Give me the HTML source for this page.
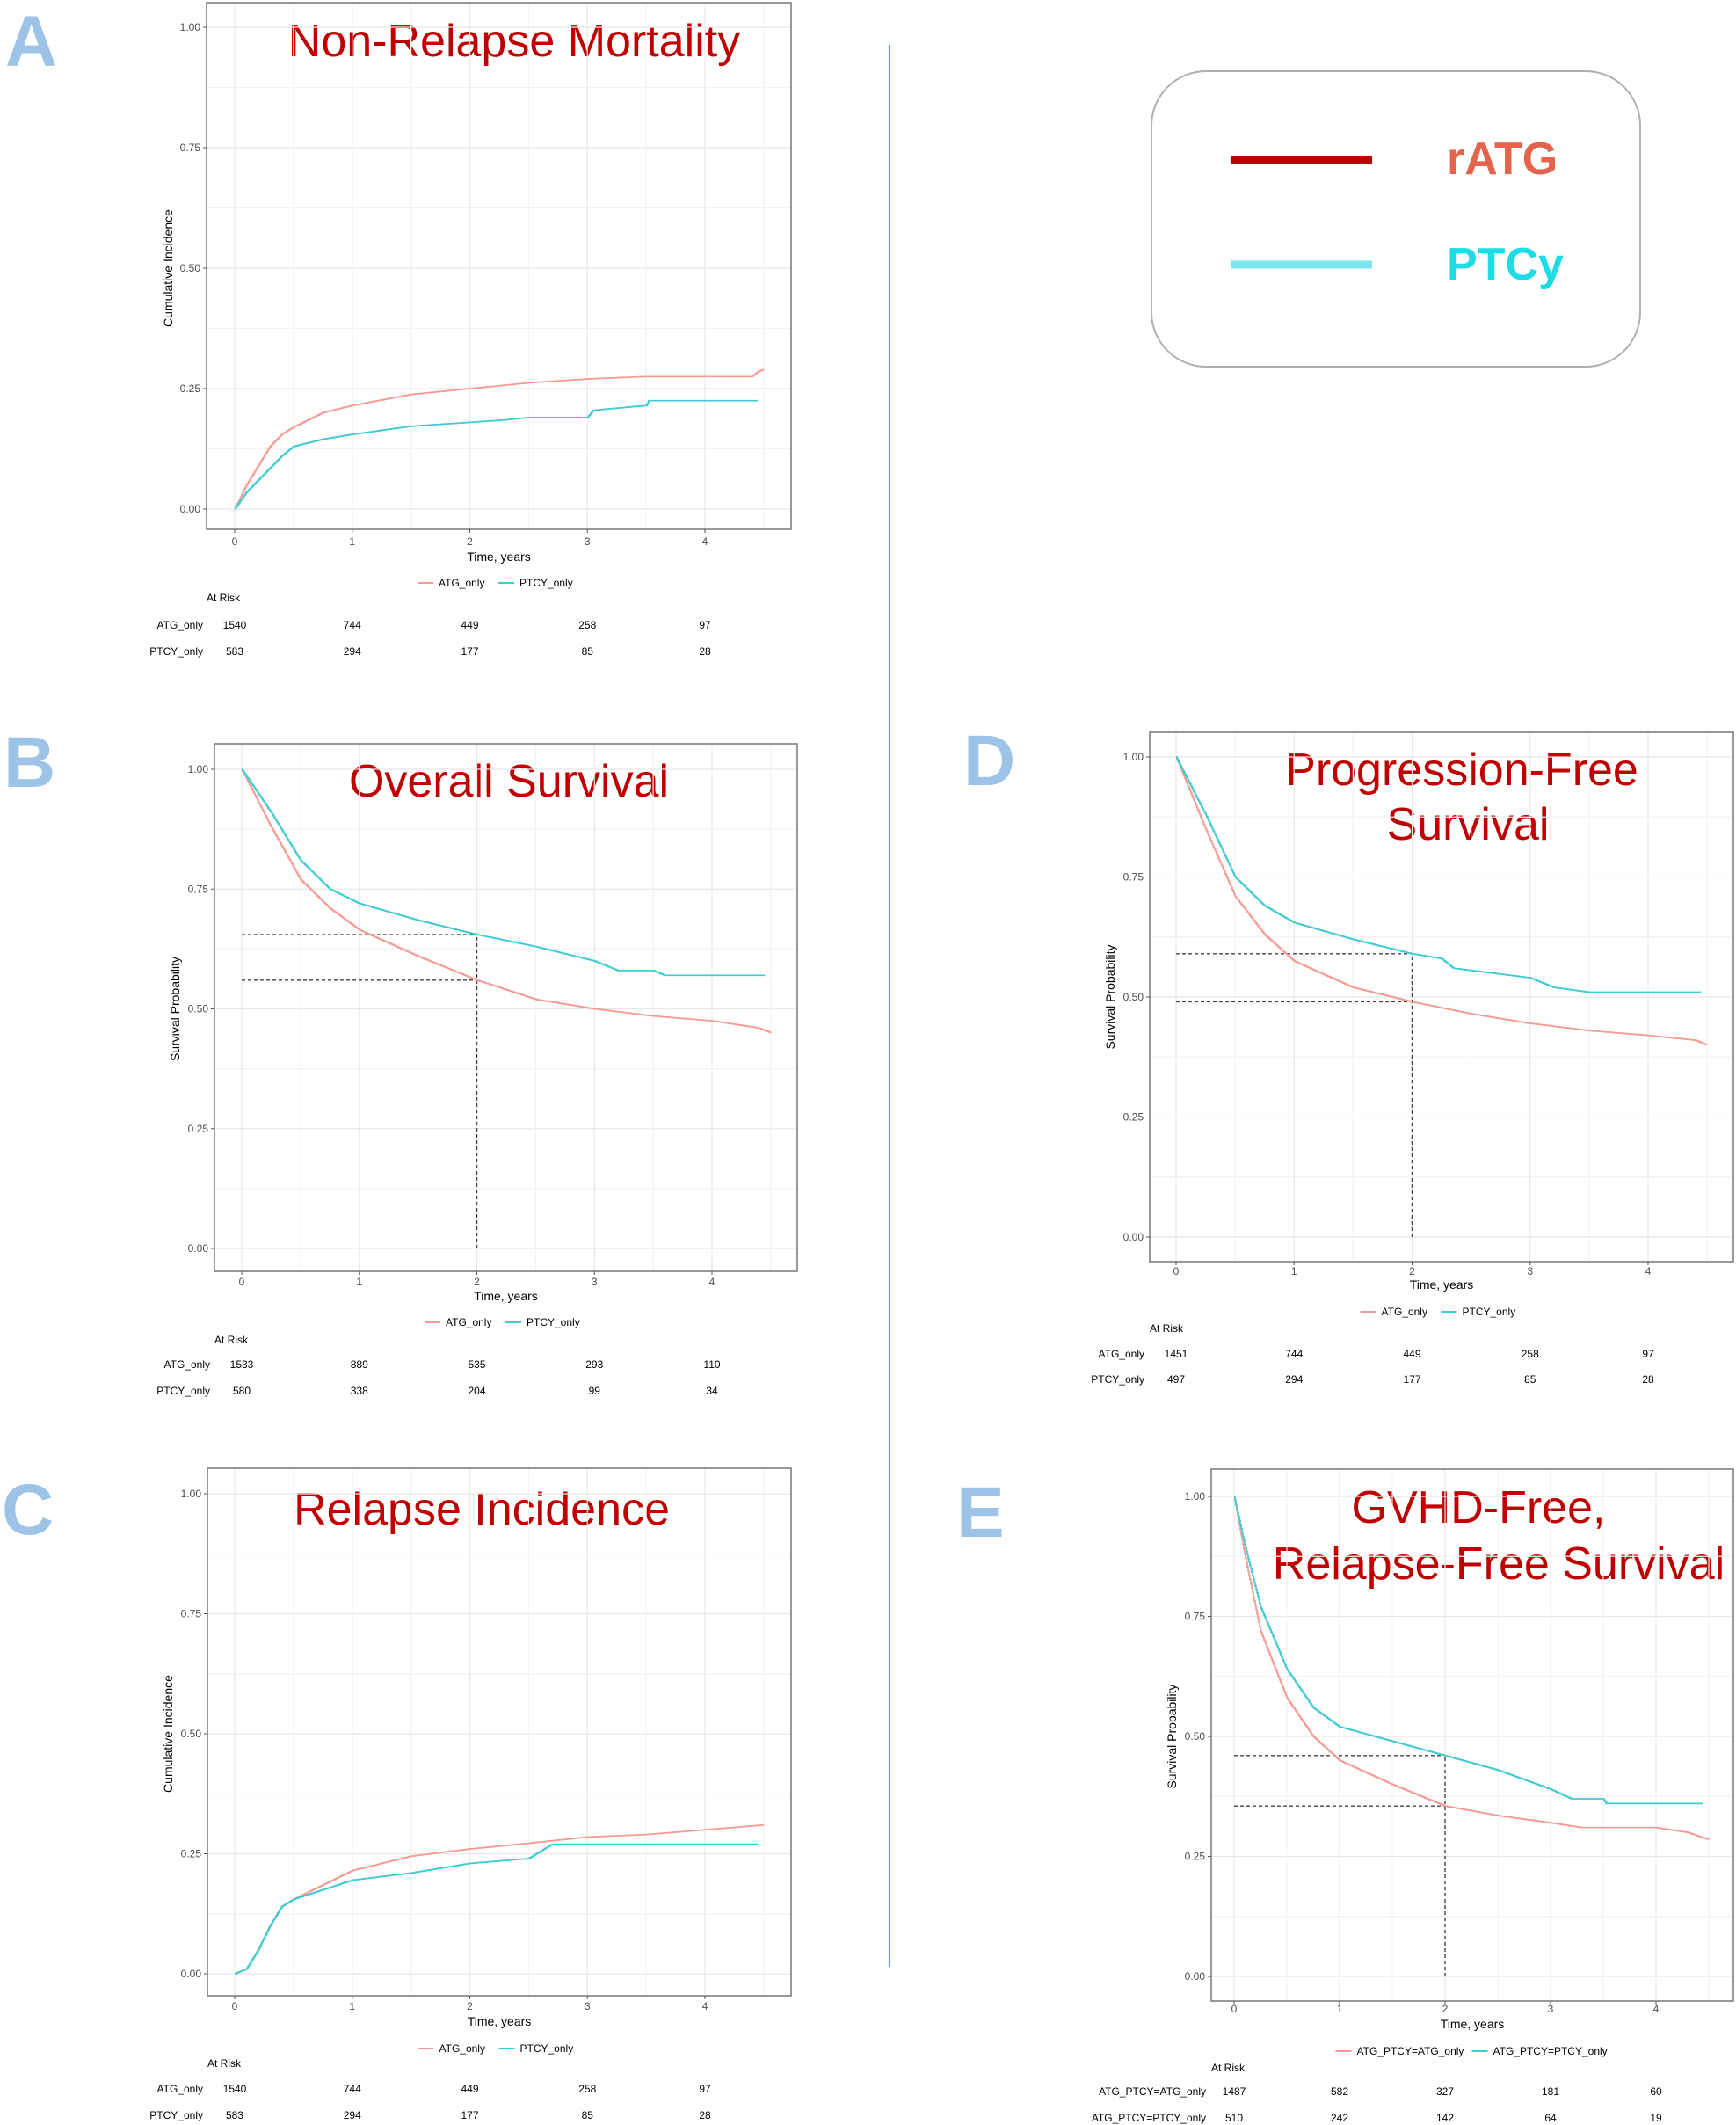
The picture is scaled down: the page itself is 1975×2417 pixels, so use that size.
<!DOCTYPE html>
<html><head><meta charset="utf-8">
<style>
html,body{margin:0;padding:0;background:#fff;}
svg{display:block;}
text{font-family:"Liberation Sans",Arial,sans-serif;}
</style></head>
<body>
<svg id="s" width="1975" height="2417" viewBox="0 0 1975 2417" xmlns="http://www.w3.org/2000/svg">
<rect width="1975" height="2417" fill="#fff"/>
<line x1="1012" y1="51" x2="1012" y2="2237" stroke="#5B9BD5" stroke-width="2"/>
<rect x="1310" y="81" width="556" height="336" rx="62" fill="#fff" stroke="#b0b0b0" stroke-width="2"/>
<line x1="1401" y1="182" x2="1561" y2="182" stroke="#C00000" stroke-width="9"/>
<line x1="1401" y1="301" x2="1561" y2="301" stroke="#7AE6F2" stroke-width="9"/>
<text x="1646" y="198" font-size="52" font-weight="bold" fill="#E4644B">rATG</text>
<text x="1646" y="318" font-size="52" font-weight="bold" fill="#1EDCE4">PTCy</text>
<g font-size="82" font-weight="bold" fill="#9DC3E6">
<text x="6" y="75">A</text><text x="4" y="895">B</text><text x="2" y="1745">C</text>
<text x="1096" y="893">D</text><text x="1088" y="1748">E</text>
</g>
<g font-size="52" fill="#C00000" text-anchor="middle">
<text x="585" y="64">Non-Relapse Mortality</text>
<text x="579" y="906">Overall Survival</text>
<text x="548" y="1734">Relapse Incidence</text>
<text x="1663" y="893">Progression-Free</text>
<text x="1670" y="955">Survival</text>
<text x="1682" y="1732">GVHD-Free,</text>
<text x="1705" y="1796">Relapse-Free Survival</text>
</g>
<g id="g"></g>
</svg>
<script>
var NS="http://www.w3.org/2000/svg",G=document.getElementById("g");
function el(t,a,txt){var e=document.createElementNS(NS,t);for(var k in a)e.setAttribute(k,a[k]);if(txt!=null)e.textContent=txt;G.appendChild(e);return e;}
function panel(c){
 var X=function(t){return c.x0+t*(c.x4-c.x0)/4},Y=function(v){return c.y0-(c.y0-c.y1)*v};
 for(var v=0;v<=1.0001;v+=0.125){el("line",{x1:c.fl,x2:c.fr,y1:Y(v),y2:Y(v),stroke:(Math.abs(v*4-Math.round(v*4))<1e-6)?"#e8e8e8":"#f3f3f3","stroke-width":1.2});}
 for(var t=0;t<=4.5;t+=0.5){el("line",{x1:X(t),x2:X(t),y1:c.ft,y2:c.fb,stroke:(t%1==0)?"#e8e8e8":"#f3f3f3","stroke-width":1.2});}
 el("rect",{x:c.fl,y:c.ft,width:c.fr-c.fl,height:c.fb-c.ft,fill:"none",stroke:"#777","stroke-width":1.5});
 ["0.00","0.25","0.50","0.75","1.00"].forEach(function(s,i){
  el("text",{x:c.fl-7,y:Y(i*0.25)+4,"font-size":12,fill:"#4d4d4d","text-anchor":"end"},s);
  el("line",{x1:c.fl-4,x2:c.fl,y1:Y(i*0.25),y2:Y(i*0.25),stroke:"#555"});});
 for(var i=0;i<=4;i++){el("text",{x:X(i),y:c.tk+4,"font-size":12,fill:"#4d4d4d","text-anchor":"middle"},""+i);
  el("line",{x1:X(i),x2:X(i),y1:c.fb,y2:c.fb+4,stroke:"#555"});}
 el("text",{x:(c.fl+c.fr)/2,y:c.tm+5,"font-size":14,"text-anchor":"middle"},"Time, years");
 var ym=(c.y0+c.y1)/2;
 el("text",{x:c.yl,y:ym,"font-size":14,"text-anchor":"middle",transform:"rotate(-90 "+c.yl+" "+ym+")"},c.ylab);
 if(c.d){c.d.forEach(function(v){el("line",{x1:X(0),x2:X(2),y1:Y(v),y2:Y(v),stroke:"#444","stroke-width":1.4,"stroke-dasharray":"4,3"});});
  el("line",{x1:X(2),x2:X(2),y1:Y(0),y2:Y(Math.max.apply(null,c.d)),stroke:"#444","stroke-width":1.4,"stroke-dasharray":"4,3"});}
 [[c.a,"#F69B94"],[c.p,"#3FCBD2"]].forEach(function(q){
  var pts=q[0],d="M"+X(pts[0][0])+","+Y(pts[0][1]);
  for(var k=1;k<pts.length;k++){var t0=pts[k-1][0],v0=pts[k-1][1],t1=pts[k][0],v1=pts[k][1];
   var n=Math.max(1,Math.round((t1-t0)*120));
   for(var j=1;j<=n;j++){var tt=t0+(t1-t0)*j/n,vv=v0+(v1-v0)*j/n;d+=" H"+X(tt).toFixed(1)+" V"+Y(vv).toFixed(1);}}
  el("path",{d:d,fill:"none",stroke:q[1],"stroke-width":1.7});});
 var lx=(c.fl+c.fr)/2,ly=c.lg;
 var n1=c.n1||"ATG_only",n2=c.n2||"PTCY_only";
 var w1=n1.length*7+36,w2=n2.length*7+30,x=lx-(w1+w2)/2;
 el("line",{x1:x,x2:x+18,y1:ly,y2:ly,stroke:"#F69B94","stroke-width":2});
 el("text",{x:x+24,y:ly+4,"font-size":12},n1);
 x+=w1;
 el("line",{x1:x,x2:x+18,y1:ly,y2:ly,stroke:"#3FCBD2","stroke-width":2});
 el("text",{x:x+24,y:ly+4,"font-size":12},n2);
 el("text",{x:c.fl,y:c.ar+4,"font-size":12},"At Risk");
 el("text",{x:c.lr,y:c.r1+4,"font-size":12,"text-anchor":"end"},n1);
 el("text",{x:c.lr,y:c.r2+4,"font-size":12,"text-anchor":"end"},n2);
 for(var i=0;i<5;i++){el("text",{x:X(i),y:c.r1+4,"font-size":12,"text-anchor":"middle"},c.t1[i]);
  el("text",{x:X(i),y:c.r2+4,"font-size":12,"text-anchor":"middle"},c.t2[i]);}
}
panel({fl:235,ft:3,fr:900,fb:602,y1:31,y0:579,x0:267,x4:802,tk:616,tm:633,lg:663,ar:680,r1:711,r2:741,lr:231,yl:196,ylab:"Cumulative Incidence",
 a:[[0,0],[0.1,0.05],[0.2,0.09],[0.3,0.13],[0.4,0.155],[0.5,0.17],[0.75,0.2],[1,0.215],[1.5,0.238],[2,0.25],[2.5,0.262],[3,0.27],[3.5,0.275],[4.4,0.275],[4.45,0.285],[4.5,0.29]],
 p:[[0,0],[0.1,0.035],[0.2,0.06],[0.3,0.085],[0.4,0.11],[0.5,0.13],[0.75,0.145],[1,0.155],[1.5,0.172],[2,0.18],[2.3,0.185],[2.5,0.19],[3,0.19],[3.05,0.205],[3.5,0.215],[3.52,0.225],[4.45,0.225]],
 t1:["1540","744","449","258","97"],t2:["583","294","177","85","28"]});
panel({fl:244,ft:846,fr:907,fb:1446,y1:875,y0:1420,x0:275,x4:810,tk:1458,tm:1474,lg:1504,ar:1524,r1:1552,r2:1582,lr:239,yl:204,ylab:"Survival Probability",d:[0.655,0.56],
 a:[[0,1],[0.25,0.88],[0.5,0.77],[0.75,0.71],[1,0.665],[1.5,0.61],[2,0.56],[2.5,0.52],[3,0.5],[3.5,0.485],[4,0.475],[4.4,0.46],[4.5,0.45]],
 p:[[0,1],[0.25,0.91],[0.5,0.81],[0.75,0.75],[1,0.72],[1.5,0.685],[2,0.655],[2.3,0.64],[2.5,0.63],[3,0.6],[3.2,0.58],[3.5,0.58],[3.6,0.57],[4.45,0.57]],
 t1:["1533","889","535","293","110"],t2:["580","338","204","99","34"]});
panel({fl:236,ft:1670,fr:900,fb:2270,y1:1699,y0:2245,x0:267,x4:802,tk:2282,tm:2299,lg:2330,ar:2347,r1:2376,r2:2406,lr:231,yl:196,ylab:"Cumulative Incidence",
 a:[[0,0],[0.1,0.01],[0.2,0.05],[0.3,0.1],[0.4,0.14],[0.5,0.155],[0.75,0.185],[1,0.215],[1.5,0.245],[2,0.26],[2.5,0.272],[3,0.285],[3.5,0.29],[4,0.3],[4.5,0.31]],
 p:[[0,0],[0.1,0.01],[0.2,0.05],[0.3,0.1],[0.4,0.14],[0.5,0.155],[0.75,0.175],[1,0.195],[1.5,0.21],[2,0.23],[2.5,0.24],[2.7,0.27],[4.45,0.27]],
 t1:["1540","744","449","258","97"],t2:["583","294","177","85","28"]});
panel({fl:1308,ft:833,fr:1972,fb:1435,y1:861,y0:1407,x0:1338,x4:1875,tk:1446,tm:1461,lg:1492,ar:1511,r1:1540,r2:1569,lr:1302,yl:1268,ylab:"Survival Probability",d:[0.59,0.49],
 a:[[0,1],[0.25,0.85],[0.5,0.71],[0.75,0.63],[1,0.575],[1.5,0.52],[2,0.49],[2.5,0.465],[3,0.445],[3.5,0.43],[4,0.42],[4.4,0.41],[4.5,0.4]],
 p:[[0,1],[0.25,0.88],[0.5,0.75],[0.75,0.69],[1,0.655],[1.5,0.62],[2,0.59],[2.25,0.58],[2.35,0.56],[3,0.54],[3.2,0.52],[3.5,0.51],[4.45,0.51]],
 t1:["1451","744","449","258","97"],t2:["497","294","177","85","28"]});
panel({fl:1378,ft:1671,fr:1972,fb:2276,y1:1702,y0:2248,x0:1404,x4:1884,tk:2285,tm:2302,lg:2333,ar:2352,r1:2379,r2:2409,lr:1372,yl:1338,ylab:"Survival Probability",d:[0.46,0.355],
 n1:"ATG_PTCY=ATG_only",n2:"ATG_PTCY=PTCY_only",
 a:[[0,1],[0.1,0.88],[0.25,0.72],[0.5,0.58],[0.75,0.5],[1,0.45],[1.5,0.4],[2,0.355],[2.5,0.335],[3,0.32],[3.3,0.31],[4,0.31],[4.3,0.3],[4.5,0.285]],
 p:[[0,1],[0.1,0.9],[0.25,0.77],[0.5,0.64],[0.75,0.56],[1,0.52],[1.5,0.49],[2,0.46],[2.5,0.43],[3,0.39],[3.2,0.37],[3.5,0.37],[3.53,0.36],[4.45,0.36]],
 t1:["1487","582","327","181","60"],t2:["510","242","142","64","19"]});
</script>
</body></html>
